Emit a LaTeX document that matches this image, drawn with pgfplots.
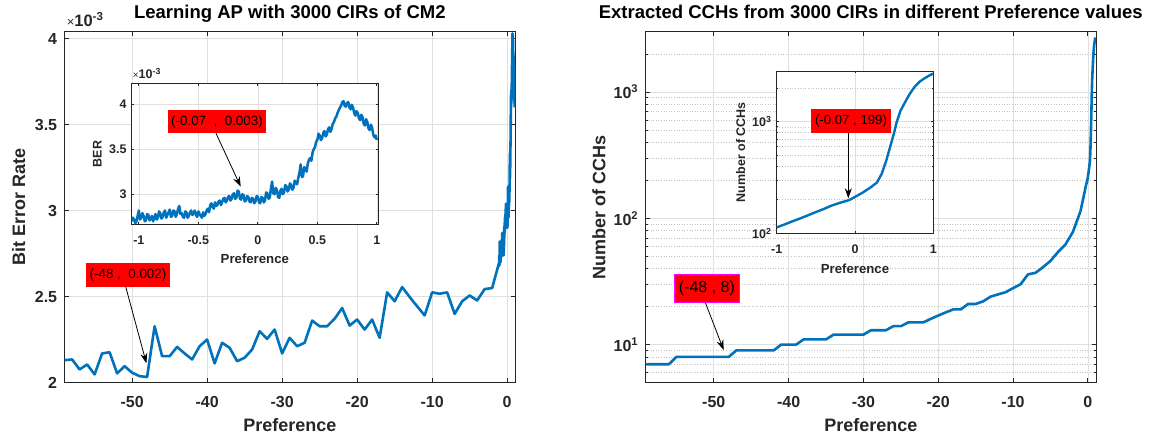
\documentclass[border=0pt]{standalone}
\usepackage{pgfplots}
\pgfplotsset{compat=1.18}
\usepackage{pgfplotstable}
\usepackage{fontspec}
\setmainfont{Liberation Sans}
\usetikzlibrary{arrows.meta}
\definecolor{mblue}{HTML}{0072BD}
\definecolor{axgray}{HTML}{262626}
\definecolor{gridc}{HTML}{DFDFDF}
\definecolor{mgridc}{HTML}{C4C4C4}
\definecolor{mag}{HTML}{FF00FF}

\pgfplotstableread{
x y
-59 2.131
-58 2.135
-57 2.077
-56 2.106
-55 2.048
-54 2.170
-53 2.177
-52 2.054
-51 2.096
-50 2.058
-49 2.038
-48 2.033
-47 2.328
-46 2.154
-45 2.154
-44 2.208
-43 2.170
-42 2.135
-41 2.212
-40 2.251
-39 2.112
-38 2.232
-37 2.203
-36 2.125
-35 2.145
-34 2.193
-33 2.299
-32 2.255
-31 2.309
-30 2.170
-29 2.261
-28 2.212
-27 2.232
-26 2.361
-25 2.328
-24 2.328
-23 2.372
-22 2.434
-21 2.332
-20 2.367
-19 2.309
-18 2.367
-17 2.261
-16 2.525
-15 2.473
-14 2.556
-13 2.498
-12 2.444
-11 2.391
-10 2.525
-9 2.517
-8 2.525
-7 2.400
-6 2.473
-5 2.507
-4 2.478
-3 2.544
-2 2.550
-1.06 2.70
}\berint

\pgfplotstableread{
x y
-1.06 2.70
-1.05 2.74
-1.04 2.72
-1.03 2.68
-1.02 2.70
-1.01 2.76
-1.00 2.82
-0.99 2.72
-0.98 2.74
-0.97 2.79
-0.96 2.76
-0.95 2.70
-0.94 2.71
-0.93 2.78
-0.92 2.77
-0.91 2.71
-0.90 2.73
-0.89 2.76
-0.88 2.70
-0.87 2.74
-0.86 2.78
-0.85 2.72
-0.84 2.74
-0.83 2.81
-0.82 2.79
-0.81 2.73
-0.80 2.75
-0.79 2.80
-0.78 2.82
-0.77 2.74
-0.76 2.77
-0.75 2.80
-0.74 2.83
-0.73 2.75
-0.72 2.76
-0.71 2.82
-0.70 2.81
-0.69 2.75
-0.68 2.78
-0.67 2.84
-0.66 2.87
-0.65 2.78
-0.64 2.79
-0.63 2.75
-0.62 2.74
-0.61 2.81
-0.60 2.80
-0.59 2.74
-0.58 2.76
-0.57 2.80
-0.56 2.82
-0.55 2.77
-0.54 2.79
-0.53 2.82
-0.52 2.77
-0.51 2.75
-0.50 2.81
-0.49 2.78
-0.48 2.76
-0.47 2.74
-0.46 2.80
-0.45 2.76
-0.44 2.78
-0.43 2.82
-0.42 2.84
-0.41 2.80
-0.40 2.88
-0.39 2.90
-0.38 2.86
-0.37 2.84
-0.36 2.91
-0.35 2.87
-0.34 2.88
-0.33 2.92
-0.32 2.93
-0.31 2.88
-0.30 2.91
-0.29 2.95
-0.28 2.96
-0.27 2.91
-0.26 2.93
-0.25 2.97
-0.24 2.98
-0.23 2.93
-0.22 2.95
-0.21 3.00
-0.20 3.01
-0.19 2.95
-0.18 2.96
-0.17 3.04
-0.16 3.03
-0.15 2.95
-0.14 2.94
-0.13 3.00
-0.12 2.99
-0.11 2.92
-0.10 2.93
-0.09 2.98
-0.08 2.97
-0.07 2.92
-0.06 2.91
-0.05 2.96
-0.04 2.95
-0.03 2.90
-0.02 2.92
-0.01 2.98
0.00 2.97
0.01 2.91
0.02 2.90
0.03 2.97
0.04 2.96
0.05 2.91
0.06 2.93
0.07 3.02
0.08 3.01
0.09 2.95
0.10 2.96
0.11 3.06
0.12 3.14
0.13 3.01
0.14 3.00
0.15 3.07
0.16 3.05
0.17 2.97
0.18 2.96
0.19 3.04
0.20 3.06
0.21 3.00
0.22 3.02
0.23 3.10
0.24 3.09
0.25 3.03
0.26 3.05
0.27 3.12
0.28 3.10
0.29 3.05
0.30 3.07
0.31 3.15
0.32 3.13
0.33 3.11
0.34 3.18
0.35 3.24
0.36 3.33
0.37 3.19
0.38 3.20
0.39 3.30
0.40 3.28
0.41 3.25
0.42 3.34
0.43 3.38
0.44 3.40
0.45 3.37
0.46 3.46
0.47 3.50
0.48 3.52
0.49 3.58
0.50 3.60
0.51 3.67
0.52 3.65
0.53 3.60
0.54 3.62
0.55 3.68
0.56 3.70
0.57 3.64
0.58 3.66
0.59 3.72
0.60 3.74
0.61 3.69
0.62 3.72
0.63 3.78
0.64 3.80
0.65 3.84
0.66 3.86
0.67 3.90
0.68 3.93
0.69 3.96
0.70 3.98
0.71 4.02
0.72 4.03
0.73 3.98
0.74 3.97
0.75 4.01
0.76 4.02
0.77 3.96
0.78 3.94
0.79 3.99
0.80 3.96
0.81 3.90
0.82 3.87
0.83 3.92
0.84 3.90
0.85 3.84
0.86 3.82
0.87 3.88
0.88 3.85
0.89 3.78
0.90 3.76
0.91 3.83
0.92 3.80
0.93 3.73
0.94 3.71
0.95 3.77
0.96 3.74
0.97 3.66
0.98 3.63
0.99 3.65
1.00 3.60
}\berfine

\pgfplotstableread{
x y
-59 7
-58 7
-57 7
-56 7
-55 8
-54 8
-53 8
-52 8
-51 8
-50 8
-49 8
-48 8
-47 9
-46 9
-45 9
-44 9
-43 9
-42 9
-41 10
-40 10
-39 10
-38 11
-37 11
-36 11
-35 11
-34 12
-33 12
-32 12
-31 12
-30 12
-29 13
-28 13
-27 13
-26 14
-25 14
-24 15
-23 15
-22 15
-21 16
-20 17
-19 18
-18 19
-17 19
-16 21
-15 21
-14 22
-13 24
-12 25
-11 26
-10 28
-9 30
-8 36
-7 37
-6 41
-5 46
-4 54
-3 62
-2 78
-1 113
}\cchint

\pgfplotstableread{
x y
-1.00 113
-0.90 120
-0.80 128
-0.70 136
-0.60 145
-0.50 155
-0.40 165
-0.30 177
-0.20 187
-0.07 199
0.00 212
0.10 232
0.20 258
0.28 285
0.34 340
0.40 450
0.45 600
0.50 800
0.53 980
0.58 1250
0.64 1500
0.70 1780
0.76 2050
0.83 2300
0.90 2480
0.95 2600
1.00 2700
}\cchfine

\pgfplotsset{
  mat/.style={
    scale only axis,
    clip mode=individual,
    axis background/.style={fill=white},
    axis line style={draw=axgray, line width=0.7pt},
    tick style={draw=axgray, line width=0.7pt},
    tick align=inside,
    xtick pos=both, ytick pos=both,
    major tick length=4.5pt, minor tick length=2.5pt,
    xmajorgrids, ymajorgrids,
    major grid style={draw=gridc, line width=0.6pt},
    minor grid style={draw=mgridc, line width=0.6pt, dotted},
    xticklabel style={inner sep=0pt, anchor=base, text=axgray},
    yticklabel style={inner sep=0pt, anchor=east, text=axgray},
    xlabel style={anchor=base, inner sep=0pt, text=axgray},
    ylabel style={anchor=base, inner sep=0pt, text=axgray},
    title style={anchor=base, inner sep=0pt, text=black,
      font=\bfseries\fontsize{18.5}{18.5}\selectfont},
  },
  bigax/.style={mat,
    xticklabel style={yshift=-24.6pt, font=\bfseries\fontsize{16}{16}\selectfont},
    yticklabel style={xshift=-7pt, font=\bfseries\fontsize{16}{16}\selectfont},
    xlabel style={at={(axis description cs:0.5,-0.1396)}, font=\bfseries\fontsize{18}{18}\selectfont},
    title style={at={(axis description cs:0.5,1.0219)}},
  },
  insax/.style={mat,
    major tick length=2.5pt, minor tick length=1.5pt,
    xticklabel style={font=\bfseries\fontsize{12.5}{12.5}\selectfont},
    yticklabel style={xshift=-5pt, font=\bfseries\fontsize{12.5}{12.5}\selectfont},
    xlabel style={font=\bfseries\fontsize{13.2}{13.2}\selectfont},
    ylabel style={font=\bfseries\fontsize{12.5}{12.5}\selectfont},
  },
  line/.style={mblue, line width=2.6pt, line join=round},
}

\begin{document}
\begin{tikzpicture}
\useasboundingbox (0,0) rectangle (1150pt,435pt);

% ---------- left main ----------
\begin{axis}[bigax, at={(64.3pt,52.3pt)}, anchor=south west,
  width=451.1pt, height=351pt,
  xmin=-59.04, xmax=1.1, ymin=2, ymax=4.04,
  xtick={-50,-40,-30,-20,-10,0}, xticklabels={-50,-40,-30,-20,-10,0},
  ytick={2,2.5,3,3.5,4}, yticklabels={2,2.5,3,3.5,4},
  xlabel={Preference}, ylabel={Bit Error Rate},
  ylabel style={at={(axis description cs:-0.0871,0.5)}, font=\bfseries\fontsize{18}{18}\selectfont},
  title={Learning AP with 3000 CIRs of CM2}]
\addplot[line] table[x=x,y=y] {\berint};
\addplot[line] table[x=x,y=y] {\berfine};
\node[anchor=base west, inner sep=0pt, text=axgray, font=\bfseries\fontsize{16.5}{16.5}\selectfont]
  at (axis description cs:0.005,1.0142) {{\mdseries\fontsize{13}{13}\selectfont×}10\textsuperscript{-3}};
\end{axis}

% ---------- left inset ----------
\begin{axis}[insax, at={(131.7pt,210.7pt)}, anchor=south west,
  width=246.3pt, height=140.8pt,
  xmin=-1.06, xmax=1.01, ymin=2.667, ymax=4.226,
  xtick={-1,-0.5,0,0.5,1}, xticklabels={-1,-0.5,0,0.5,1},
  ytick={3,3.5,4}, yticklabels={3,3.5,4},
  xticklabel style={yshift=-20.7pt},
  xlabel={Preference}, ylabel={BER},
  xlabel style={at={(axis description cs:0.5,-0.277)}},
  ylabel style={at={(axis description cs:-0.1218,0.5)}}]
\addplot[line, line width=2.5pt] table[x=x,y=y] {\berfine};
\node[anchor=base west, inner sep=0pt, text=axgray, font=\bfseries\fontsize{12.5}{12.5}\selectfont]
  at (axis description cs:0.004,1.032) {{\mdseries\fontsize{10}{10}\selectfont×}10\textsuperscript{-3}};
\end{axis}

% ---------- right main ----------
\begin{axis}[bigax, at={(645.4pt,52.3pt)}, anchor=south west,
  width=450.8pt, height=351pt, ymode=log,
  xmin=-59.14, xmax=1.12, ymin=5, ymax=3000,
  xtick={-50,-40,-30,-20,-10,0}, xticklabels={-50,-40,-30,-20,-10,0},
  ytick={10,100,1000},
  yticklabels={10\textsuperscript{1},10\textsuperscript{2},10\textsuperscript{3}},
  minor ytick={5,6,7,8,9,20,30,40,50,60,70,80,90,200,300,400,500,600,700,800,900,2000,3000},
  yminorgrids,
  xlabel={Preference}, ylabel={Number of CCHs},
  ylabel style={at={(axis description cs:-0.0887,0.5)}, font=\bfseries\fontsize{18}{18}\selectfont},
  title={Extracted CCHs from 3000 CIRs in different Preference values}]
\addplot[line] table[x=x,y=y] {\cchint};
\addplot[line] table[x=x,y=y] {\cchfine};
\end{axis}

% ---------- right inset ----------
\begin{axis}[insax, at={(776.7pt,201.7pt)}, anchor=south west,
  width=156.6pt, height=162.3pt, ymode=log,
  xmin=-1, xmax=1, ymin=100, ymax=2850,
  xtick={-1,0,1}, xticklabels={-1,0,1},
  ytick={100,1000},
  yticklabels={10\textsuperscript{2},10\textsuperscript{3}},
  minor ytick={200,300,400,500,600,700,800,900,2000},
  yminorgrids,
  xticklabel style={yshift=-20pt},
  xlabel={Preference}, ylabel={Number of CCHs},
  xlabel style={at={(axis description cs:0.5,-0.2465)}},
  ylabel style={at={(axis description cs:-0.2024,0.5)}}]
\addplot[line, line width=2.4pt] table[x=x,y=y] {\cchfine};
\end{axis}

% ---------- annotations ----------
\node[fill=red, minimum width=83.2pt, minimum height=23.4pt, inner sep=0pt,
  font=\fontsize{13.4}{13.4}\selectfont] at (128pt,160pt) {(-48 ,\ \ 0.002)};
\draw[-{Stealth[length=10pt,width=7pt]}, line width=0.8pt] (125.7pt,148.3pt) -- (146.4pt,71.7pt);

\node[fill=red, minimum width=97.4pt, minimum height=23.3pt, inner sep=0pt,
  font=\fontsize{13.4}{13.4}\selectfont] at (217pt,313.3pt) {(-0.07\ \ ,\ \ 0.003)};
\draw[-{Stealth[length=10pt,width=7pt]}, line width=0.8pt] (216pt,301.7pt) -- (240.7pt,248.3pt);

\node[fill=red, draw=mag, line width=1pt, minimum width=64.7pt, minimum height=27.7pt, inner sep=0pt,
  font=\fontsize{16}{16}\selectfont] at (706.9pt,146.2pt) {(-48 , 8)};
\draw[-{Stealth[length=10pt,width=7pt]}, line width=0.8pt] (705.4pt,132.3pt) -- (723.6pt,85pt);

\node[fill=red, minimum width=80pt, minimum height=23.4pt, inner sep=0pt,
  font=\fontsize{13.2}{13.2}\selectfont] at (851pt,314pt) {(-0.07 , 199)};
\draw[-{Stealth[length=10pt,width=7pt]}, line width=0.8pt] (848.3pt,302.3pt) -- (848.3pt,236.7pt);
\end{tikzpicture}
\end{document}
